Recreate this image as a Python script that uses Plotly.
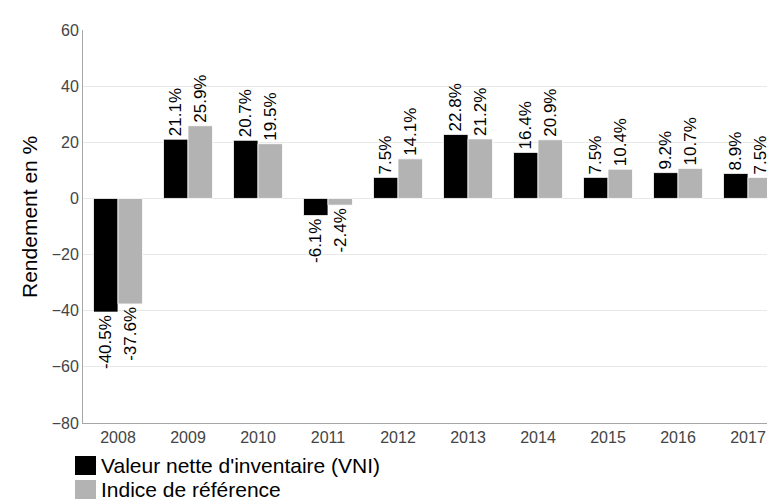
import plotly.graph_objects as go

years = ["2008", "2009", "2010", "2011", "2012", "2013", "2014", "2015", "2016", "2017"]
vni = [-40.5, 21.1, 20.7, -6.1, 7.5, 22.8, 16.4, 7.5, 9.2, 8.9]
indice = [-37.6, 25.9, 19.5, -2.4, 14.1, 21.2, 20.9, 10.4, 10.7, 7.5]
series_names = ["Valeur nette d'inventaire (VNI)", "Indice de référence"]
colors = ["#000000", "#b3b3b3"]
y_ticks = [-80, -60, -40, -20, 0, 20, 40, 60]
y_title = "Rendement en %"

FONT = "Liberation Sans, Arial, sans-serif"

fig = go.Figure()
for name, vals, col in zip(series_names, [vni, indice], colors):
    fig.add_trace(go.Bar(
        x=years, y=vals, name=name,
        marker=dict(color=col, line=dict(color="white", width=0.8)),
        texttemplate="%{y:.1f}%", textposition="outside", textangle=-90,
        textfont=dict(family=FONT, size=17, color="#000000"),
        constraintext="none", cliponaxis=False, showlegend=False,
    ))

# plot area in pixels: left 75, right 775, top 22, bottom 415
L, R, T, B = 75, 775, 22, 415
def px(x):
    return (x - L) / (R - L)
def py(y):
    return (B - y) / (B - T)

shapes = []
annotations = []
legend_rows = [(448, 467), (472, 491)]
for (y0, y1), name, col in zip(legend_rows, series_names, colors):
    shapes.append(dict(type="rect", xref="paper", yref="paper",
                       x0=px(67), x1=px(88), y0=py(y1), y1=py(y0),
                       fillcolor=col, line=dict(width=0)))
    annotations.append(dict(xref="paper", yref="paper", x=px(91), y=py((y0 + y1) / 2),
                            text=name, showarrow=False, xanchor="left", yanchor="middle",
                            font=dict(family=FONT, size=21, color="#000000")))

annotations.append(dict(xref="paper", yref="paper", x=px(21), y=py(209),
                        text=y_title, showarrow=False, textangle=-90,
                        xanchor="center", yanchor="middle",
                        font=dict(family=FONT, size=21, color="#000000")))

fig.update_layout(
    width=775, height=500,
    margin=dict(l=L, r=775 - R, t=T, b=500 - B),
    paper_bgcolor="white", plot_bgcolor="white",
    barmode="group", bargap=0.30, bargroupgap=0.0,
    font=dict(family=FONT),
    shapes=shapes, annotations=annotations,
    xaxis=dict(showgrid=False, showline=True, linecolor="#a6a6a6", linewidth=1,
               tickfont=dict(family=FONT, size=16, color="#444444"), ticks=""),
    yaxis=dict(range=[-80, 60], tickvals=y_ticks, showgrid=True, gridcolor="#e8e8e8",
               zeroline=True, zerolinecolor="#e8e8e8", zerolinewidth=1,
               showline=True, linecolor="#a6a6a6", linewidth=1,
               tickfont=dict(family=FONT, size=16, color="#444444"), ticks=""),
)

fig.write_html("out.html")
